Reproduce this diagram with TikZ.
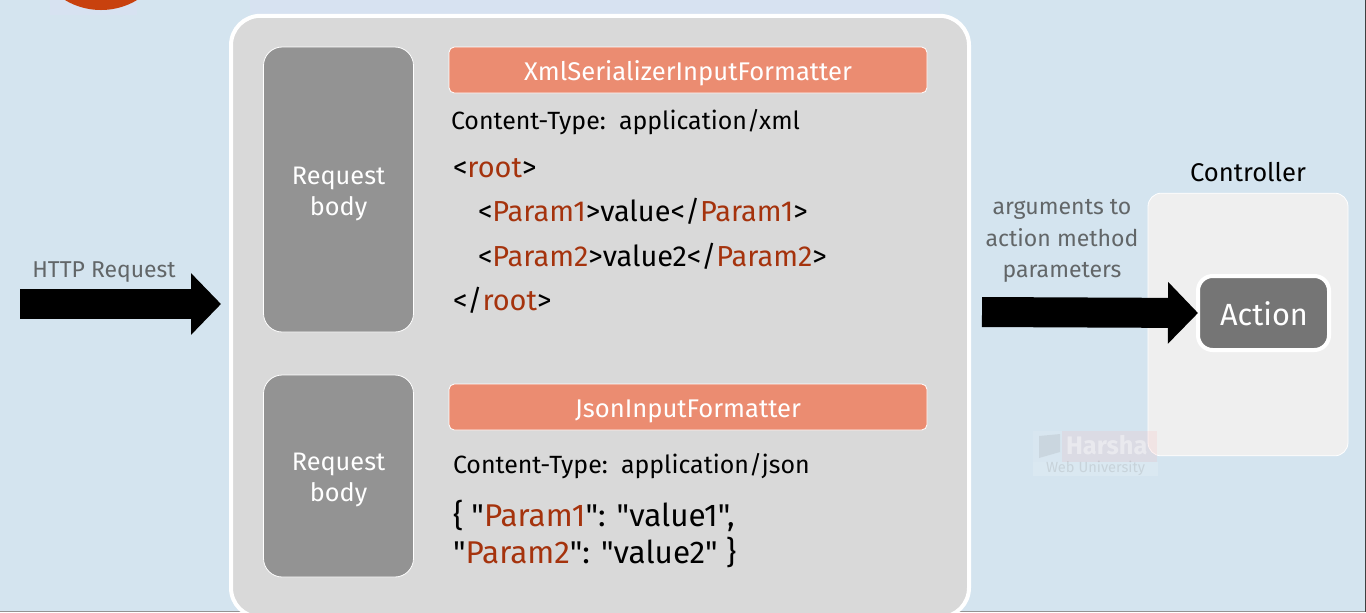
\documentclass[tikz,border=0pt]{standalone}
\usepackage{fontspec}
\setmainfont{Fira Sans}[Ligatures=TeXOff]
\usetikzlibrary{arrows.meta}
\definecolor{bgblue}{HTML}{D4E4EF}
\definecolor{bandblue}{HTML}{D7E2F1}
\definecolor{panelgrey}{HTML}{D9D9D9}
\definecolor{bodygrey}{HTML}{939393}
\definecolor{fmtorange}{HTML}{EB8C71}
\definecolor{ctrlgrey}{HTML}{EFEFEF}
\definecolor{actgrey}{HTML}{757575}
\definecolor{tagred}{HTML}{A5330D}
\definecolor{labelgrey}{HTML}{626668}
\definecolor{logoorange}{HTML}{C8410E}
\newcommand{\fsz}[2]{\fontsize{#1pt}{#2pt}\selectfont}
\newcommand{\tg}[1]{\textcolor{tagred}{#1}}
\tikzset{
  x=0.75pt,y=-0.75pt,
  every node/.style={inner sep=0pt,outer sep=0pt},
  panelbox/.style={draw=white,line width=3pt,fill=panelgrey,rounded corners=22pt},
  bodybox/.style={draw=white,line width=0.6pt,fill=bodygrey,rounded corners=14pt},
  fmtbox/.style={draw=white,line width=0.6pt,fill=fmtorange,rounded corners=4pt},
  ctrlbox/.style={draw=white,line width=0.6pt,fill=ctrlgrey,rounded corners=10pt},
  actionbox/.style={draw=white,line width=3pt,fill=actgrey,rounded corners=11pt},
  whitelabel/.style={text=white,align=center},
  codetext/.style={anchor=base west,text=black,font=\fsz{21.7}{24}},
  typetext/.style={anchor=base west,text=black,font=\fsz{18.7}{24}},
  jsontext/.style={anchor=base west,text=black,font=\fsz{23.6}{28}},
  greylabel/.style={text=labelgrey,font=\fsz{17.3}{23.4},align=center},
  blockarrow/.style={line width=22.5pt,draw=black,-{Triangle[length=22.5pt,width=45pt]}},
}
\begin{document}
\begin{tikzpicture}
\useasboundingbox (0,0) rectangle (1366,612);
\clip (0,0) rectangle (1366,612);
\fill[bgblue] (0,0) rectangle (1366,612);
\fill[bandblue] (250,0) rectangle (940,14);
\fill[bandblue] (50,0) rectangle (137,15);
\fill[logoorange] (101,-60) circle (70);
\fill[gray!85] (0,610.5) rectangle (1366,612);
\fill[black!75] (1365,0) rectangle (1366,612);

% controller
\node[ctrlbox,minimum width=150pt,minimum height=197pt] (controller) at (1248,324.5) {};
\node[anchor=base,font=\fsz{19.2}{23}] (ctrllabel) at (1248,181) {Controller};
\node[actionbox,minimum width=98.25pt,minimum height=55.5pt] (action) at (1263.5,313) {};
\node[anchor=base,text=white,font=\fsz{23}{26}] (actionlabel) at (1264,325) {Action};

% watermark
\fill[white,opacity=0.10] (1033,431) rectangle (1157,462);
\fill[red!50!white,opacity=0.10] (1062,431) rectangle (1157,462);
\fill[white,opacity=0.15] (1033,462) rectangle (1158,476);
\fill[gray,opacity=0.15] (1039,436) -- (1060,434) -- (1060,452) -- (1039,458) -- cycle;
\node[anchor=base west,text=white,opacity=0.4,font=\bfseries\fsz{19}{22}] (wmname) at (1066,454) {Harsha};
\node[anchor=base west,text=gray,opacity=0.2,font=\fsz{11}{12}] (wmsub) at (1046,472) {Web University};

% main panel
\node[panelbox,minimum width=553.5pt,minimum height=451pt] (panel) at (600,316.5) {};

\node[bodybox,minimum width=112.5pt,minimum height=213.75pt] (body1) at (338.5,189.5) {};
\node[bodybox,minimum width=112.5pt,minimum height=151.5pt] (body2) at (338.5,476) {};
\node[whitelabel,font=\fsz{19}{23.2}] (body1label) at (338.5,194) {Request\\body};
\node[whitelabel,font=\fsz{19}{23.2}] (body2label) at (338.5,480) {Request\\body};

\node[fmtbox,minimum width=358.5pt,minimum height=34.5pt] (fmt1) at (688,70) {};
\node[anchor=base,text=white,font=\fsz{19.2}{23}] (fmt1label) at (688,80) {XmlSerializerInputFormatter};
\node[fmtbox,minimum width=358.5pt,minimum height=34.5pt] (fmt2) at (688,407) {};
\node[anchor=base,text=white,font=\fsz{19.2}{23}] (fmt2label) at (688,417) {JsonInputFormatter};

\node[typetext] (ct1) at (451,129) {Content-Type:\ \ application/xml};
\node[codetext] (x1) at (453,177) {<\tg{root}>};
\node[codetext] (x2) at (478,221.5) {<\tg{Param1}>value</\tg{Param1}>};
\node[codetext] (x3) at (478,266) {<\tg{Param2}>value2</\tg{Param2}>};
\node[codetext] (x4) at (453,310) {</\tg{root}>};

\node[typetext] (ct2) at (453,473) {Content-Type:\ \ application/json};
\node[jsontext] (j1) at (453,526.5) {\{ "\tg{Param1}": "value1",};
\node[jsontext] (j2) at (453,563.5) {"\tg{Param2}": "value2" \}};

% labels
\node[anchor=base,text=labelgrey,font=\fsz{17.2}{23}] (http) at (104,277) {HTTP Request};
\node[greylabel] (argslabel) at (1062,241) {arguments to\\action method\\parameters};

% connectors
\coordinate (httpstart) at (20,304);
\coordinate (httpend) at (221,304);
\coordinate (argstart) at (982,312);
\draw[blockarrow] (httpstart) -- (httpend);
\draw[blockarrow] (argstart) -- (action.west);
\end{tikzpicture}
\end{document}
